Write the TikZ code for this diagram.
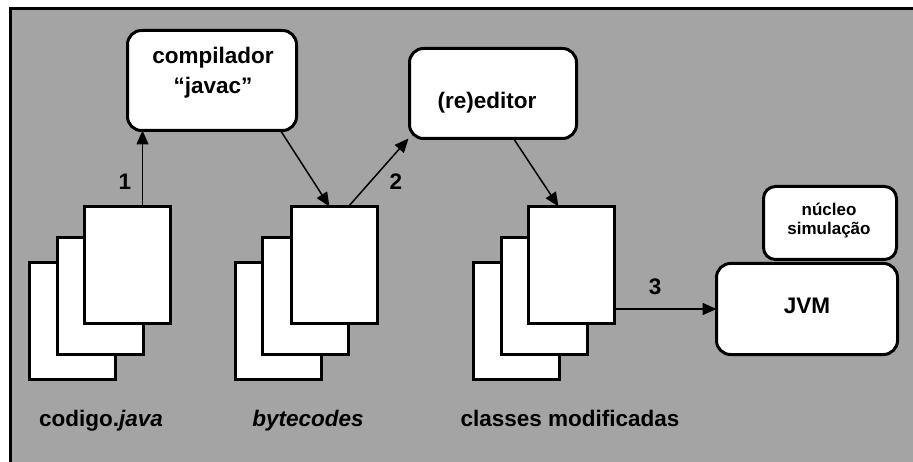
\documentclass[tikz,border=0pt]{standalone}
\usepackage{fontspec}
\setmainfont{Liberation Sans}
\usetikzlibrary{arrows.meta,calc}
\definecolor{bggray}{HTML}{A4A4A4}
\begin{document}
\begin{tikzpicture}[x=1pt,y=-1pt,
  page/.style={draw=black,fill=white,line width=3pt,minimum width=86pt,minimum height=117pt,inner sep=0pt,outer sep=0pt},
  rbox/.style={draw=black,fill=white,line width=3pt,rounded corners=14pt,inner sep=0pt,outer sep=0pt},
  arr/.style={line width=1.5pt,-{Triangle[length=14pt,width=12pt]}},
  txt/.style={font=\fontsize{22.5}{26}\selectfont\bfseries,anchor=base,inner sep=0pt},
  stxt/.style={font=\fontsize{17}{20}\selectfont\bfseries,anchor=base,inner sep=0pt}]
\useasboundingbox (0,0) rectangle (913,462);
\clip (0,0) rectangle (913,462);
\fill[white] (0,0) rectangle (913,462);
\draw[fill=bggray,line width=3pt] (10.5,9) rectangle (930,480);
% boxes
\node[rbox,minimum width=169pt,minimum height=100pt] (comp) at (212,80.5) {};
\node[txt] (t1) at (213,64) {compilador};
\node[txt] (t2) at (213,94) {“javac”};
\node[rbox,minimum width=167pt,minimum height=90pt] (edit) at (493,93.5) {};
\node[txt] (t3) at (487,109) {(re)editor};
\node[rbox,rounded corners=12pt,minimum width=133pt,minimum height=73pt] (nuc) at (830,223) {};
\node[stxt] (t4) at (829,216) {núcleo};
\node[stxt] (t5) at (829,235) {simulação};
\node[rbox,minimum width=181pt,minimum height=91pt] (jvm) at (807,309) {};
\node[txt] (t6) at (807,313) {JVM};
% stacks
\node[page] (s1b) at (72,321) {};
\node[page] (s1m) at (100,296) {};
\node[page] (s1f) at (127.5,265) {};
\node[page] (s2b) at (278.5,321) {};
\node[page] (s2m) at (305.5,296) {};
\node[page] (s2f) at (334.5,265) {};
\node[page] (s3b) at (516,321) {};
\node[page] (s3m) at (544,296) {};
\node[page] (s3f) at (571.5,265) {};
% arrows
\draw[arr] ([xshift=58pt]s1f.north west) -- ([xshift=58pt]s1f.north west |- comp.south);
\draw[arr] ([xshift=153pt]comp.south west) -- ([xshift=38pt]s2f.north west);
\draw[arr] ([xshift=57pt]s2f.north west) -- ([xshift=-1pt]edit.south west);
\draw[arr] ([xshift=104pt]edit.south west) -- ([xshift=30pt]s3f.north west);
\draw[arr] (s3f.east |- jvm.west) -- (jvm.west);
% labels
\node[txt] (l1) at (125,190) {1};
\node[txt] (l2) at (396,190) {2};
\node[txt] (l3) at (655,295) {3};
\node[txt] (c1) at (101,426) {codigo.\textit{java}};
\node[txt] (c2) at (308,426) {\textit{bytecodes}};
\node[txt] (c3) at (570,426) {classes modificadas};
\end{tikzpicture}
\end{document}
